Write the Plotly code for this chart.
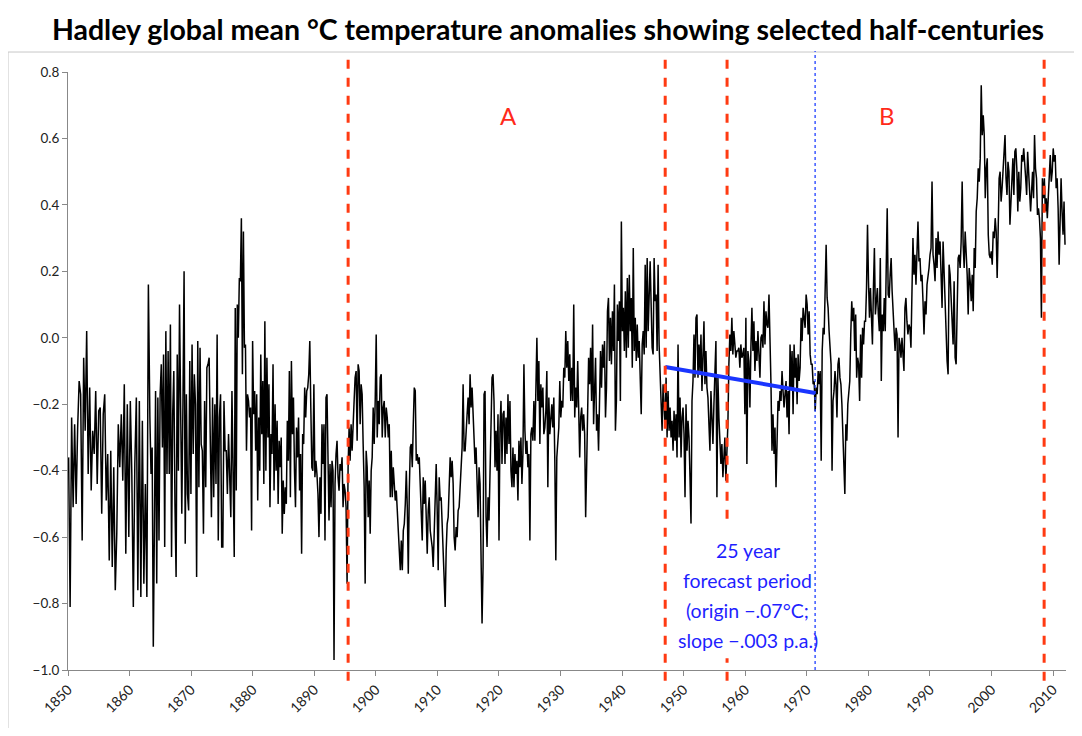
import numpy as np
import plotly.graph_objects as go

# ---- data (anomalies, degC), each block spans a known year window ----
seg_1850 = [-0.36,-0.81,-0.24,-0.51,-0.26,-0.50,-0.27,-0.13,-0.17,-0.61,-0.06,-0.28,0.02,-0.41,-0.15,-0.46,-0.28,-0.35,-0.16,-0.44,-0.22,-0.21,-0.53,-0.23,-0.17,-0.49,-0.35,-0.67,-0.34,-0.69,-0.39,-0.76,-0.59,-0.26,-0.39,-0.23,-0.43,-0.14,-0.65,-0.20,-0.60,-0.19,-0.41,-0.81,-0.38,-0.18,-0.76,-0.19,-0.78,-0.25,-0.74,-0.44,-0.78,0.16]
seg_1863 = [-0.24,-0.41,-0.33,-0.93,-0.56,-0.16,-0.74,-0.18,-0.61,-0.17,-0.08,-0.33,-0.05,-0.63,0.02,-0.41,-0.04,-0.41,0.04,-0.66,-0.23,-0.10,-0.50,-0.72,-0.05,-0.40,0.10,-0.15,-0.53,-0.20,0.20,-0.62,-0.17,-0.47,-0.52,-0.07,-0.47,-0.02,-0.35,-0.11,-0.20,-0.72,-0.01,-0.45,-0.03,-0.32,-0.34,-0.59,-0.19,-0.45,-0.09,-0.08,-0.06,-0.31,-0.54,-0.18,-0.48,-0.20,-0.44,0.01,-0.61,-0.24,-0.17,-0.63,-0.63,-0.19,-0.34,-0.34,-0.47,-0.29,-0.40,-0.54,-0.16,-0.45]
seg_1877 = [-0.66,0.09,-0.46,0.10,0.00,0.18,0.17,0.36,-0.11,0.32,-0.03,-0.02,-0.34,-0.17,-0.19,-0.24,-0.21,-0.58,-0.01,-0.23,-0.16,-0.34,-0.17,-0.49,-0.24,-0.40,-0.05,-0.29,-0.13,-0.44,0.05,-0.40,-0.06,-0.30,-0.14,-0.51,-0.29,-0.35,-0.08,-0.46,-0.20,-0.40,-0.25,-0.50,-0.31,-0.39,-0.30,-0.59,-0.43,-0.53,-0.45,-0.50,-0.25,-0.37,-0.10,-0.48,-0.07,-0.29,-0.18,-0.40,-0.51,-0.27,-0.36,-0.24,-0.46,-0.35,-0.65,-0.29,-0.32,-0.15,-0.24,-0.16,-0.15,-0.11,-0.01,-0.21,-0.39,-0.40,-0.14,-0.42,-0.37,-0.41]
seg_1891 = [-0.47,-0.60,-0.42,-0.53,-0.26,-0.38,-0.26,-0.61,-0.18,-0.17,-0.44,-0.55,-0.38,-0.51,-0.37,-0.40,-0.97,-0.44,-0.35,-0.31,-0.42,-0.46,-0.38,-0.40,-0.36,-0.51,-0.44,-0.46,-0.51,-0.74,-0.39,-0.27,-0.37,-0.26,-0.34,-0.24,-0.19,-0.12,-0.10,-0.31,-0.08,-0.10,-0.26,-0.14,-0.17,-0.32,-0.45,-0.74,-0.34,-0.39,-0.54,-0.43,-0.59,-0.40,-0.36,-0.21,-0.32,-0.19,0.01,-0.30,-0.19,-0.26,-0.12,-0.11,-0.30,-0.21,-0.19,-0.30,-0.21,-0.24,-0.30,-0.26,-0.48,-0.34,-0.48,-0.39,-0.44,-0.49,-0.46,-0.52,-0.60,-0.67,-0.70,-0.61]
seg_1904 = [-0.70,-0.58,-0.56,-0.50,-0.40,-0.51,-0.71,-0.46,-0.33,-0.32,-0.39,-0.26,-0.15,-0.16,-0.37,-0.35,-0.38,-0.36,-0.44,-0.52,-0.61,-0.42,-0.50,-0.43,-0.56,-0.65,-0.52,-0.48,-0.58,-0.60,-0.63,-0.69,-0.60,-0.50,-0.38,-0.52,-0.70,-0.42,-0.49,-0.48,-0.56,-0.70,-0.74,-0.81,-0.64,-0.56,-0.54,-0.46,-0.36,-0.42,-0.37,-0.44,-0.60,-0.64,-0.57,-0.60,-0.52,-0.51,-0.44,-0.38,-0.33,-0.14,-0.34,-0.34,-0.26,-0.23,-0.18,-0.26,-0.11,-0.21,-0.15,-0.24,-0.31,-0.38,-0.33,-0.42,-0.54,-0.39,-0.44,-0.66,-0.86,-0.69,-0.17,-0.16]
seg_1918 = [-0.54,-0.63,-0.48,-0.55,-0.36,-0.25,-0.12,-0.11,-0.19,-0.39,-0.28,-0.40,-0.23,-0.61,-0.27,-0.19,-0.38,-0.23,-0.22,-0.38,-0.24,-0.35,-0.17,-0.32,-0.19,-0.40,-0.45,-0.33,-0.45,-0.35,-0.41,-0.37,-0.49,-0.31,-0.39,-0.30,-0.44,-0.35,-0.08,-0.28,-0.35,-0.31,-0.39,-0.35,-0.61,-0.29,-0.27,-0.31,-0.19,-0.31,-0.15,0.00,-0.19,-0.07,-0.32,-0.14,-0.21,-0.15,-0.29,-0.27,-0.22,-0.10,-0.45,-0.18,-0.29,-0.22,-0.20,-0.27,-0.18,-0.37,-0.67,-0.36,-0.29,-0.27,-0.13,-0.24,-0.19,-0.21,-0.09,-0.12,0.02,-0.09,-0.01,-0.13]
seg_1931 = [-0.05,-0.19,-0.09,-0.19,0.10,-0.24,-0.15,-0.21,-0.07,-0.21,-0.36,-0.24,-0.21,-0.28,-0.23,-0.29,-0.54,-0.39,-0.21,-0.06,-0.14,-0.03,-0.19,0.04,-0.26,-0.15,-0.06,-0.28,-0.23,-0.34,-0.17,-0.04,-0.15,-0.02,-0.09,-0.01,-0.24,-0.15,0.08,0.12,-0.07,0.06,-0.08,0.08,-0.04,0.16,-0.28,-0.19,0.10,-0.01,0.11,-0.19,0.35,0.02,0.09,-0.04,0.14,-0.06,0.18,-0.03,0.19,0.02,0.12,-0.09,0.27,-0.04,0.06,-0.07,0.04,-0.06,-0.01,-0.11,-0.23,-0.02,0.02,-0.05,0.22,-0.03,0.24,0.02,0.17,0.23,0.10,-0.03,-0.05]
seg_1945 = [0.24,0.11,0.13,-0.04,0.22,-0.02,-0.13,-0.22,-0.28,-0.14,-0.24,-0.27,-0.12,-0.30,-0.16,-0.28,-0.21,-0.30,-0.25,-0.34,-0.22,-0.31,-0.23,-0.36,-0.02,-0.30,-0.18,-0.36,-0.24,-0.21,-0.29,-0.48,-0.20,-0.34,-0.25,-0.30,-0.42,-0.56,-0.19,-0.13,0.01,-0.12,0.06,0.07,-0.12,-0.02,-0.10,0.01,-0.16,-0.03,0.05,-0.14,-0.04,-0.15,-0.18,-0.26,-0.34,-0.16,-0.24,-0.32,-0.20,-0.07,-0.01,-0.48,-0.12,-0.24,-0.30,-0.38,-0.32,-0.42,-0.36,-0.30,-0.43,-0.34,-0.26,-0.08,0.01,-0.04,0.06,-0.05,0.02,-0.02,-0.06,-0.04]
seg_1959 = [-0.04,-0.03,-0.09,-0.02,-0.06,-0.05,-0.03,-0.23,0.06,-0.38,-0.04,-0.07,-0.21,-0.03,0.09,-0.04,0.05,-0.10,-0.01,-0.07,0.02,-0.05,-0.12,0.00,0.01,-0.03,0.11,-0.02,0.08,0.04,0.03,0.13,0.01,-0.14,-0.34,-0.23,-0.35,-0.27,-0.45,-0.32,-0.19,-0.22,-0.16,-0.19,-0.10,-0.16,-0.21,-0.17,-0.13,-0.24,-0.16,-0.29,-0.02,-0.15,-0.04,-0.23,-0.02,-0.12,-0.06,-0.20,-0.05,-0.13,-0.09,0.06,-0.01,0.09,0.05,0.03,0.13,0.10,0.01,0.08,-0.05,-0.08,-0.08,-0.14,-0.13,-0.22,-0.15,-0.17,-0.10,-0.14,-0.10,-0.37]
seg_1972 = [-0.04,0.03,0.01,0.19,0.28,0.12,0.09,0.02,-0.04,-0.08,-0.40,-0.19,-0.16,-0.10,-0.14,-0.24,-0.08,-0.06,-0.12,-0.14,-0.20,-0.30,-0.35,-0.47,-0.26,-0.31,-0.20,-0.17,-0.13,0.01,0.11,0.05,0.09,-0.04,0.07,-0.12,-0.06,-0.08,-0.19,0.01,-0.12,0.03,-0.02,0.05,0.05,0.15,0.34,0.17,0.06,0.15,0.06,-0.02,0.15,0.27,0.07,0.11,0.15,0.07,0.02,0.24,-0.13,0.07,0.02,0.12,0.02,0.21,0.39,0.13,0.12,0.19,0.24,0.14,0.09,0.02,-0.04,0.03,0.01,-0.30,0.00,-0.02,-0.06,0.00,-0.04,-0.10,0.09]
seg_1986 = [0.12,0.05,0.01,0.04,0.03,-0.03,0.10,0.30,0.19,0.25,0.16,0.25,0.35,0.23,0.24,0.17,0.19,0.11,0.01,0.11,0.07,0.16,0.18,0.21,0.25,0.27,0.47,0.25,0.22,0.17,0.30,0.21,0.32,0.25,0.29,0.21,0.09,0.29,0.19,0.11,-0.01,-0.07,-0.11,0.22,0.19,0.12,0.03,-0.02,0.17,-0.06,-0.08,0.16,0.24,0.25,0.21,0.29,0.47,0.28,0.21,0.32,0.26,0.19,0.07,0.21,0.17,0.11,0.19,0.08,0.27,0.21,0.38,0.42,0.51,0.47,0.54,0.76,0.61,0.67,0.61,0.42,0.51,0.54,0.31,0.25]
seg_2000 = [0.24,0.26,0.22,0.32,0.30,0.36,0.32,0.18,0.32,0.48,0.50,0.41,0.45,0.50,0.56,0.61,0.48,0.43,0.53,0.50,0.34,0.43,0.48,0.54,0.43,0.56,0.57,0.51,0.38,0.50,0.41,0.45,0.55,0.53,0.57,0.50,0.48,0.43,0.56,0.50,0.44,0.38,0.44,0.50,0.42,0.61,0.51,0.48,0.37,0.39,0.36,0.30,0.06,0.48,0.42,0.48,0.38,0.42,0.36,0.42,0.48,0.55,0.47,0.50,0.57,0.53,0.55,0.45,0.48,0.39,0.22,0.43,0.48,0.38,0.31,0.41,0.28]

# year windows covered by each block
blocks = [
    (1850.1, 1863.3, seg_1850),
    (1863.3, 1877.0, seg_1863),
    (1877.0, 1890.6, seg_1877),
    (1890.6, 1904.3, seg_1891),
    (1904.3, 1917.9, seg_1904),
    (1917.9, 1931.5, seg_1918),
    (1931.5, 1945.2, seg_1931),
    (1945.2, 1958.8, seg_1945),
    (1958.8, 1972.5, seg_1959),
    (1972.5, 1986.1, seg_1972),
    (1986.1, 1999.8, seg_1986),
    (1999.8, 2012.1, seg_2000),
]

# half-century markers and forecast window
red_lines = [1895.5, 1947.0, 1957.05, 2008.55]
blue_line_year = 1971.35
trend_x = [1947.0, 1971.35]
trend_y = [-0.088, -0.166]
period_labels = ["A", "B"]
period_label_x = [1921.5, 1983.0]
forecast_text = ["25 year", "forecast period", "(origin \u2212.07\u00b0C;", "slope \u2212.003 p.a.)"]
forecast_text_y = [-0.64, -0.73, -0.82, -0.91]
forecast_text_x = 1960.4

years, vals = [], []
for a, b, seg in blocks:
    n = len(seg)
    step = (b - a) / n
    years.extend(a + step * i for i in range(n))
    vals.extend(seg)

FONT = "Lato, Open Sans, sans-serif"

fig = go.Figure()
fig.add_trace(go.Scatter(x=years, y=vals, mode="lines",
                         line=dict(color="black", width=1.5), showlegend=False,
                         hoverinfo="skip"))
fig.add_trace(go.Scatter(x=trend_x, y=trend_y, mode="lines",
                         line=dict(color="#1a35ff", width=4), showlegend=False))

shapes = []
for xv in red_lines:
    shapes.append(dict(type="line", xref="x", yref="paper", x0=xv, x1=xv, y0=-0.018, y1=1.035,
                       line=dict(color="#ff3a12", width=3, dash="dash")))
shapes.append(dict(type="line", xref="x", yref="paper", x0=blue_line_year, x1=blue_line_year,
                   y0=0, y1=1.035, line=dict(color="#2040ff", width=1.3, dash="dot")))
# white box behind the forecast text block (hides the red line below it)
shapes.append(dict(type="rect", xref="x", yref="y",
                   x0=forecast_text_x - 11.2, x1=forecast_text_x + 10.4,
                   y0=forecast_text_y[-1] - 0.055, y1=forecast_text_y[0] + 0.08,
                   fillcolor="white", line=dict(width=0), layer="above"))
# outer chart-area frame
shapes.append(dict(type="rect", xref="paper", yref="paper", x0=-0.0601, x1=1.009,
                   y0=-0.2, y1=1.0334, line=dict(color="#c8c8c8", width=1), layer="below"))

annotations = []
for lab, xv in zip(period_labels, period_label_x):
    annotations.append(dict(x=xv, y=0.67, xref="x", yref="y", text=lab, showarrow=False,
                            font=dict(family=FONT, size=24, color="#ff2a1a")))
for t, yv in zip(forecast_text, forecast_text_y):
    annotations.append(dict(x=forecast_text_x, y=yv, xref="x", yref="y", text=t, showarrow=False,
                            font=dict(family=FONT, size=19.5, color="#1f1fff")))

# the page body has an 8px margin; size the figure so the plot lands where the reference has it
fig.update_layout(
    width=1066, height=720,
    margin=dict(l=60, r=8, t=64, b=58),
    paper_bgcolor="white", plot_bgcolor="white",
    title=dict(text="<b>Hadley global mean \u00b0C temperature anomalies showing selected half-centuries</b>",
               x=0.5066, xanchor="center", xref="container", y=0.969, yanchor="middle",
               font=dict(family=FONT, size=28.5, color="black")),
    shapes=shapes, annotations=annotations,
    xaxis=dict(range=[1850, 2012.1], tickmode="linear", tick0=1850, dtick=10,
               tickangle=-45, ticks="outside", ticklen=5, tickcolor="#888",
               showline=True, linecolor="#888", linewidth=1, showgrid=False, zeroline=False,
               tickfont=dict(family=FONT, size=14, color="#222")),
    yaxis=dict(range=[-1.0, 0.8], tickmode="linear", tick0=-1.0, dtick=0.2, tickformat=".1f",
               ticks="outside", ticklen=5, tickcolor="#888",
               showline=True, linecolor="#888", linewidth=1, showgrid=False, zeroline=False,
               tickfont=dict(family=FONT, size=13.5, color="#222")),
)

fig.write_html("out.html")
